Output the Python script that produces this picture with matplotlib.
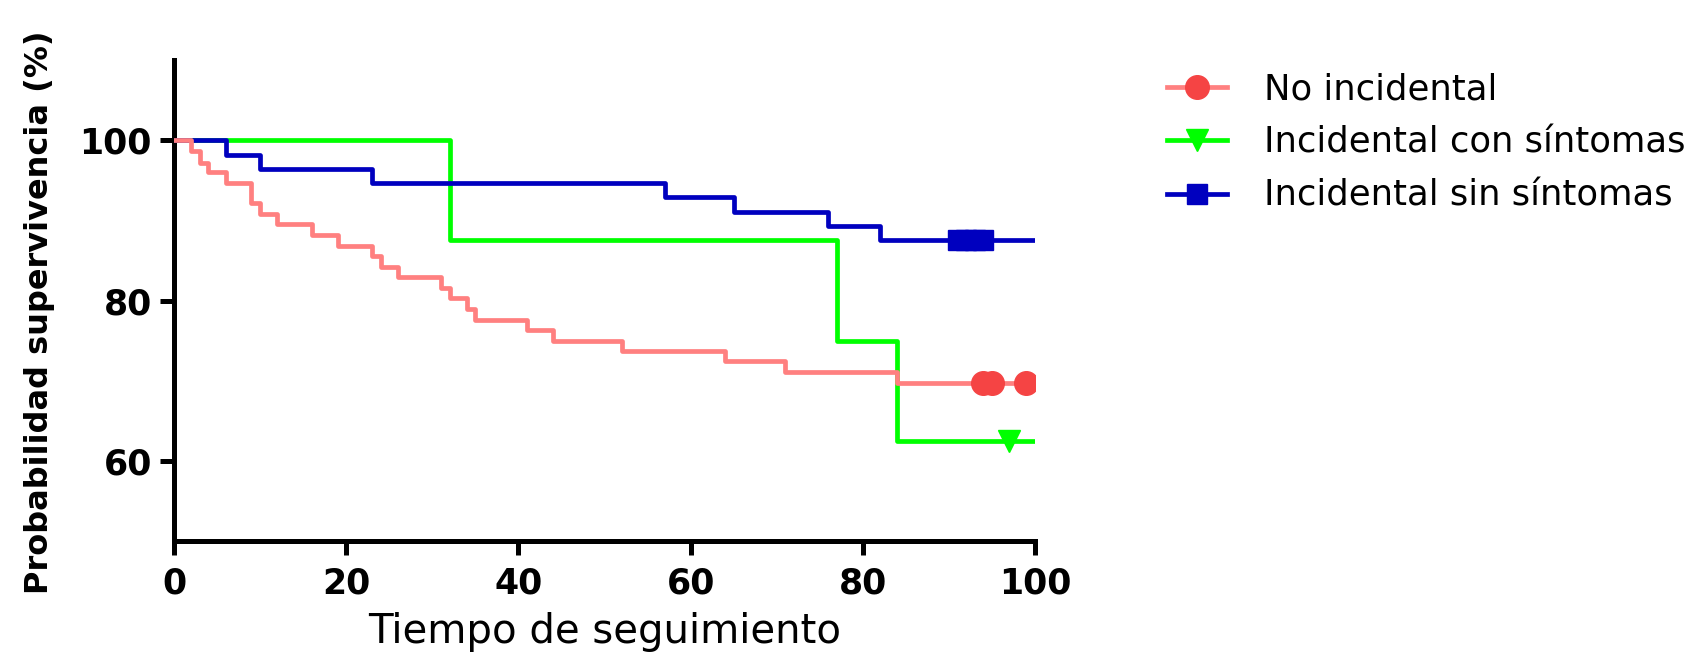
import matplotlib
matplotlib.use("Agg")
import matplotlib.pyplot as plt
from matplotlib.lines import Line2D

# ---- data ----
series_names = ["No incidental", "Incidental con síntomas", "Incidental sin síntomas"]

t_no = [0, 2, 3, 4, 6, 9, 10, 12, 16, 19, 23, 24, 26, 31, 32, 34, 35, 41, 44, 52, 64, 71, 84, 100]
s_no = [100, 98.6, 97.2, 96.0, 94.7, 92.1, 90.8, 89.5, 88.2, 86.8, 85.5, 84.2, 82.9, 81.6,
        80.3, 78.9, 77.6, 76.3, 75.0, 73.7, 72.4, 71.1, 69.7, 69.7]
cens_t_no = [94, 95, 99]
cens_s_no = [69.7, 69.7, 69.7]

t_con = [0, 32, 77, 84, 100]
s_con = [100, 87.5, 75.0, 62.5, 62.5]
cens_t_con = [97]
cens_s_con = [62.5]

t_sin = [0, 6, 10, 23, 57, 65, 76, 82, 100]
s_sin = [100, 98.2, 96.4, 94.6, 92.9, 91.1, 89.3, 87.5, 87.5]
cens_t_sin = [91, 92, 93, 94]
cens_s_sin = [87.5, 87.5, 87.5, 87.5]

x_ticks = [0, 20, 40, 60, 80, 100]
y_ticks = [60, 80, 100]

# ---- style ----
plt.rcParams['font.family'] = ['DejaVu Sans']
W, H = 1705, 657
fig = plt.figure(figsize=(W / 100, H / 100), dpi=100)
ax = fig.add_axes([174 / W, 1 - 541 / H, (1035 - 174) / W, (541 - 60) / H])

red_line, red_mk = '#FF8080', '#F54444'
green = '#00FF00'
blue = '#0000BF'
lw = 3.4

ax.step(t_con, s_con, where='post', color=green, lw=lw, zorder=2)
ax.plot(cens_t_con, cens_s_con, ls='none', marker='v', ms=16, color=green, zorder=2)
ax.step(t_sin, s_sin, where='post', color=blue, lw=lw, zorder=3)
ax.plot(cens_t_sin, cens_s_sin, ls='none', marker='s', ms=15, color=blue, zorder=3)
ax.step(t_no, s_no, where='post', color=red_line, lw=lw, zorder=4)
ax.plot(cens_t_no, cens_s_no, ls='none', marker='o', ms=17, color=red_mk, zorder=4)

ax.set_xlim(0, 100)
ax.set_ylim(50, 110)
ax.set_xticks(x_ticks)
ax.set_yticks(y_ticks)
for sp in ['top', 'right']:
    ax.spines[sp].set_visible(False)
for sp in ['left', 'bottom']:
    ax.spines[sp].set_linewidth(3.6)
ax.spines['left'].set_bounds(49.0, 110)
ax.tick_params(axis='both', width=3.6, length=10, labelsize=25)
ax.tick_params(axis='x', pad=8)
ax.tick_params(axis='y', pad=6)
for lab in ax.get_xticklabels() + ax.get_yticklabels():
    lab.set_fontweight('bold')

ax.set_xlabel("Tiempo de seguimiento", fontsize=29, labelpad=9)
ax.set_ylabel("Probabilidad supervivencia (%)", fontsize=23, fontweight='bold')
ax.yaxis.set_label_coords(-0.138, 0.476)

handles = [
    Line2D([], [], color=red_line, lw=lw, marker='o', ms=17, mfc=red_mk, mec=red_mk),
    Line2D([], [], color=green, lw=lw, marker='v', ms=16),
    Line2D([], [], color=blue, lw=lw, marker='s', ms=15),
]
fig.legend(handles, series_names, loc='upper left', bbox_to_anchor=(1167 / W, 1 - 72 / H),
           frameon=False, fontsize=25.5, handlelength=1.7, handletextpad=1.05,
           labelspacing=0.55, borderpad=0, borderaxespad=0)

fig.savefig("out.png", dpi=100)
